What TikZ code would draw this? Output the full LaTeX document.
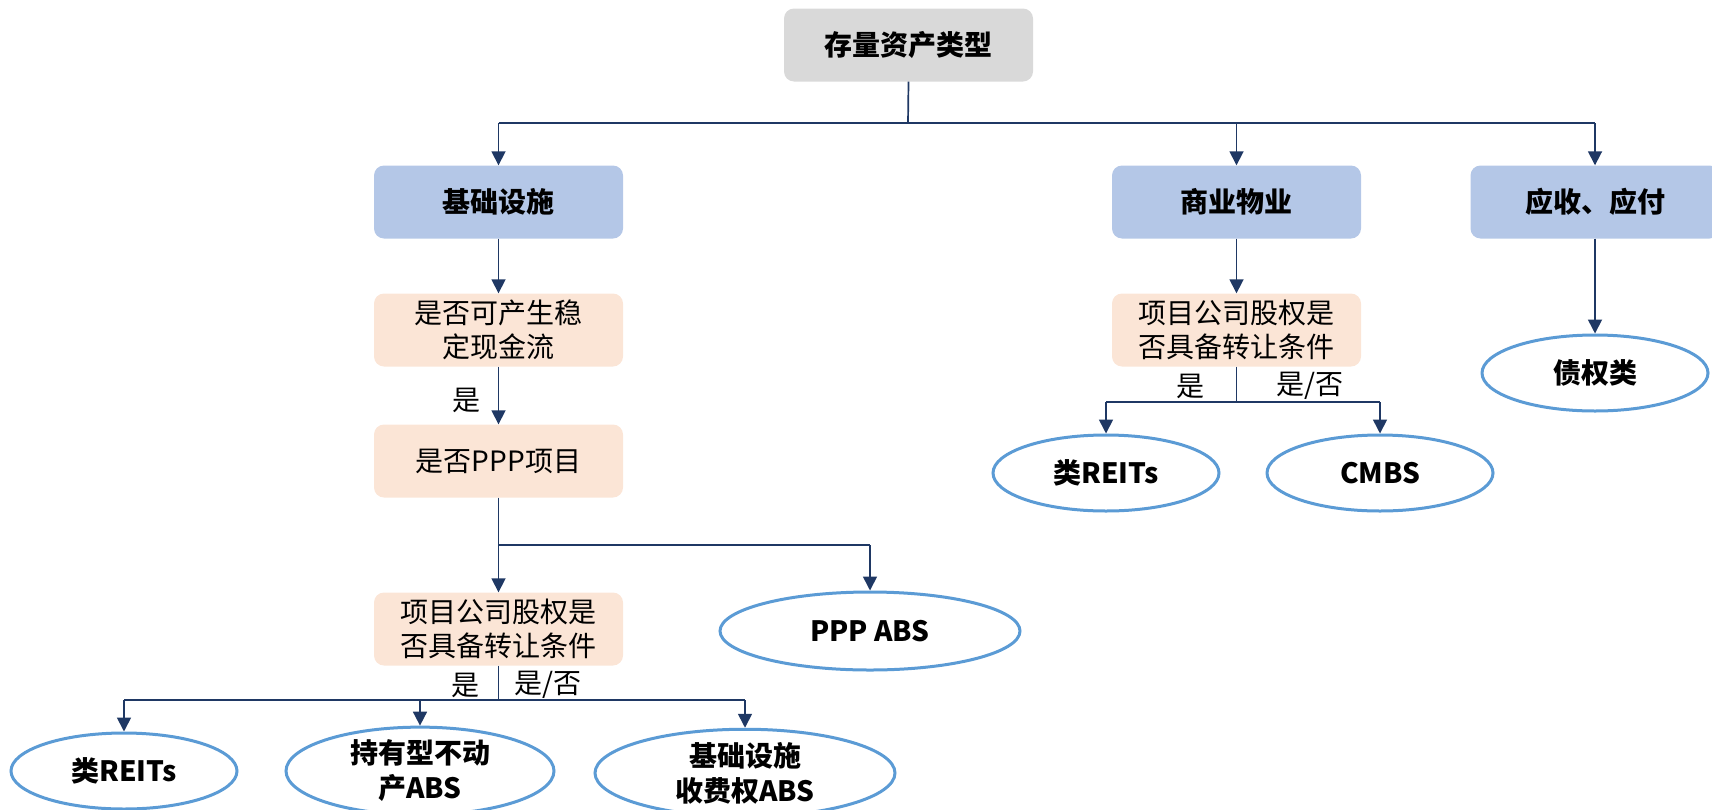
\documentclass[tikz,border=0pt]{standalone}
\usepackage{fontspec}
\setmainfont{Noto Sans CJK SC}
\usetikzlibrary{arrows.meta,shapes.geometric}
\definecolor{navy}{HTML}{1F3864}
\definecolor{ellc}{HTML}{5B9BD5}
\definecolor{grayf}{HTML}{D9D9D9}
\definecolor{bluef}{HTML}{B4C7E7}
\definecolor{peachf}{HTML}{FBE5D6}
\tikzset{
  box/.style={rectangle, rounded corners=10pt, minimum width=249pt, minimum height=73pt, inner sep=0pt, align=center, font=\fontsize{28}{34}\selectfont},
  topbox/.style={box, fill=grayf, font=\fontsize{28}{34}\selectfont\bfseries},
  catbox/.style={box, fill=bluef, font=\fontsize{28}{34}\selectfont\bfseries},
  qbox/.style={box, fill=peachf},
  res/.style={ellipse, draw=ellc, line width=3pt, fill=white, inner sep=0pt, align=center, font=\fontsize{28}{35}\selectfont\bfseries},
  conn/.style={draw=navy, line width=1.7pt},
  bar/.style={draw=navy, line width=2.2pt},
  arr/.style={conn, -{Triangle[length=14pt,width=14pt]}},
  lbl/.style={font=\fontsize{28}{34}\selectfont, inner sep=0pt}
}
\begin{document}
\begin{tikzpicture}[x=1pt,y=-1pt]
\useasboundingbox (0,0) rectangle (1712,809);
\node[topbox] (top) at (908.5,45) {存量资产类型};
\node[catbox] (jc) at (498.5,202) {基础设施};
\node[catbox] (sy) at (1236.5,202) {商业物业};
\node[catbox] (ys) at (1595,202) {应收、应付};
\node[qbox] (q1) at (498.5,330) {是否可产生稳\\定现金流};
\node[qbox] (q2) at (498.5,461) {是否PPP项目};
\node[qbox] (q3) at (498.5,629) {项目公司股权是\\否具备转让条件};
\node[qbox] (q4) at (1236.5,330) {项目公司股权是\\否具备转让条件};
\node[res, minimum width=300pt, minimum height=78pt] (ppp) at (870,631) {PPP ABS};
\node[res, minimum width=226pt, minimum height=76pt] (lr) at (124,771) {类REITs};
\node[res, minimum width=268pt, minimum height=76pt] (hold) at (420,771) {持有型不动\\产ABS};
\node[res, minimum width=300pt, minimum height=76pt] (toll) at (745,773) {基础设施\\收费权ABS};
\node[res, minimum width=226pt, minimum height=76pt] (rr) at (1106,473) {类REITs};
\node[res, minimum width=226pt, minimum height=76pt] (cmbs) at (1380,473) {CMBS};
\node[res, minimum width=226pt, minimum height=76pt] (debt) at (1595,373) {债权类};
\coordinate (b1) at (908,123);
\coordinate (b2) at (498.5,545);
\coordinate (b3) at (498.5,700);
\coordinate (b4) at (1236.5,402);
% top level
\draw[conn] (top.south) -- (b1);
\draw[bar] (jc.north |- b1) -- (ys.north |- b1);
\draw[arr] (jc.north |- b1) -- (jc.north);
\draw[arr] (sy.north |- b1) -- (sy.north);
\draw[arr] (ys.north |- b1) -- (ys.north);
% left branch
\draw[arr] (jc.south) -- (q1.north);
\draw[arr] (q1.south) -- (q2.north);
\node[lbl] (l1) at (466,400) {是};
\draw[conn] (q2.south) -- (b2);
\draw[bar] (b2) -- (ppp.north |- b2);
\draw[arr] (b2) -- (q3.north);
\draw[arr] (ppp.north |- b2) -- (ppp.north);
\draw[conn] (q3.south) -- (b3);
\draw[bar] (lr.north |- b3) -- (toll.north |- b3);
\draw[arr] (lr.north |- b3) -- (lr.north);
\draw[arr] (hold.north |- b3) -- (hold.north);
\draw[arr] (toll.north |- b3) -- (toll.north);
\node[lbl] (l2) at (465,685) {是};
\node[lbl] (l3) at (548,685) {是/否};
% middle branch
\draw[arr] (sy.south) -- (q4.north);
\draw[conn] (q4.south) -- (b4);
\draw[bar] (rr.north |- b4) -- (cmbs.north |- b4);
\draw[arr] (rr.north |- b4) -- (rr.north);
\draw[arr] (cmbs.north |- b4) -- (cmbs.north);
\node[lbl] (l4) at (1190,386) {是};
\node[lbl] (l5) at (1310,386) {是/否};
% right branch
\draw[arr] (ys.south) -- (debt.north);
\end{tikzpicture}
\end{document}
